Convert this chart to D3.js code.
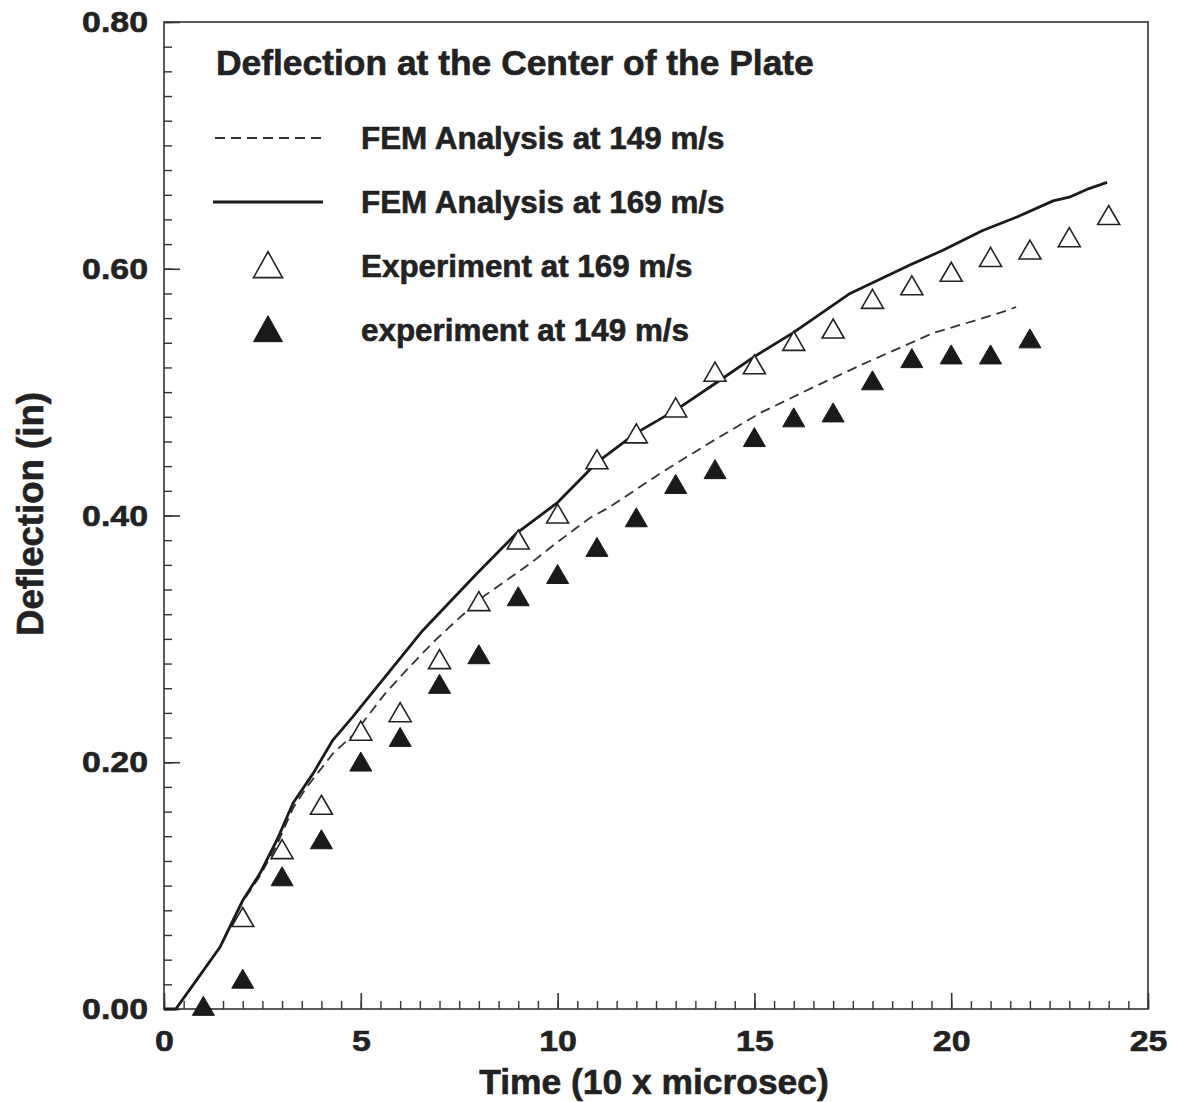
<!DOCTYPE html>
<html>
<head>
<meta charset="utf-8">
<script src="https://cdn.jsdelivr.net/npm/d3@7"></script>
<style>
  html, body { margin: 0; padding: 0; background: #fff; }
  svg { display: block; }
  text { font-family: "Liberation Sans", Arial, Helvetica, sans-serif; font-weight: bold; fill: #222; stroke: #222; stroke-width: 0.6px; }
</style>
</head>
<body>
<svg id="chart" width="1178" height="1102"></svg>
<script>
// ---- data ----
const chartTitle = "Deflection at the Center of the Plate";
const xTitle = "Time (10 x microsec)";
const yTitle = "Deflection (in)";
const xTickValues = [0, 5, 10, 15, 20, 25];
const yTickValues = [0, 0.2, 0.4, 0.6, 0.8];
const legendLabels = ["FEM Analysis at 149 m/s", "FEM Analysis at 169 m/s", "Experiment at 169 m/s", "experiment at 149 m/s"];

// FEM 149 m/s (dashed)
const fem149T = [0, 0.3, 0.84, 1.42, 2.0, 2.44, 2.87, 3.28, 3.63, 4.29, 4.8, 5.0, 5.6, 6.17, 6.83, 7.4, 8.1, 9.3, 10.06, 10.82, 11.33, 12.6, 13.87, 15.14, 16.5, 17.85, 19.55, 20.6, 21.4, 21.65];
const fem149V = [0, 0, 0.024, 0.05, 0.087, 0.108, 0.133, 0.163, 0.180, 0.207, 0.222, 0.230, 0.255, 0.275, 0.297, 0.314, 0.334, 0.361, 0.380, 0.398, 0.407, 0.434, 0.459, 0.483, 0.504, 0.524, 0.548, 0.558, 0.566, 0.569];

// FEM 169 m/s (solid)
const fem169T = [0, 0.3, 0.84, 1.42, 2.0, 2.44, 2.87, 3.28, 3.79, 4.29, 4.8, 5.56, 6.58, 7.95, 8.97, 9.98, 11.0, 12.0, 13.03, 14.05, 14.96, 15.98, 17.43, 18.95, 19.79, 20.8, 21.67, 22.59, 23.0, 23.5, 23.96];
const fem169V = [0, 0, 0.024, 0.05, 0.088, 0.110, 0.137, 0.167, 0.191, 0.218, 0.237, 0.267, 0.307, 0.353, 0.386, 0.410, 0.443, 0.467, 0.486, 0.508, 0.528, 0.548, 0.580, 0.603, 0.615, 0.631, 0.642, 0.655, 0.658, 0.665, 0.670];

// Experiment 169 m/s (open triangles)
const exp169T = [2, 3, 4, 5, 6, 7, 8, 9, 10, 11, 12, 13, 14, 15, 16, 17, 18, 19, 20, 21, 22, 23, 24];
const exp169V = [0.072, 0.127, 0.163, 0.223, 0.238, 0.281, 0.328, 0.378, 0.399, 0.443, 0.464, 0.485, 0.514, 0.520, 0.539, 0.549, 0.573, 0.584, 0.595, 0.607, 0.613, 0.623, 0.641];

// experiment 149 m/s (filled triangles)
const exp149T = [1, 2, 3, 4, 5, 6, 7, 8, 9, 10, 11, 12, 13, 14, 15, 16, 17, 18, 19, 20, 21, 22];
const exp149V = [0.0, 0.022, 0.105, 0.135, 0.198, 0.218, 0.261, 0.285, 0.332, 0.350, 0.372, 0.396, 0.423, 0.435, 0.461, 0.477, 0.481, 0.507, 0.525, 0.528, 0.528, 0.541];

// ---- layout ----
const svg = d3.select("#chart");
const X0 = 164, X1 = 1148, Y0 = 1009, Y1 = 22;
const x = d3.scaleLinear().domain([0, 25]).range([X0, X1]);
const y = d3.scaleLinear().domain([0, 0.8]).range([Y0, Y1]);
const ink = "#222";

// frame
svg.append("rect").attr("x", X0).attr("y", Y1).attr("width", X1 - X0).attr("height", Y0 - Y1)
  .attr("fill", "none").attr("stroke", "#333").attr("stroke-width", 1.6);

// left axis: minor ticks
const yMinor = d3.range(0, 0.8001, 0.02).map(v => +v.toFixed(2));
svg.append("g").attr("transform", `translate(${X0},0)`)
  .call(d3.axisLeft(y).tickValues(yMinor).tickSize(-8).tickFormat(""))
  .call(g => g.select(".domain").remove())
  .call(g => g.selectAll("line").attr("stroke", "#333").attr("stroke-width", 1.4));
// left axis: major ticks + labels
const sx = 1.13;
svg.append("g").attr("transform", `translate(${X0},0)`)
  .call(d3.axisLeft(y).tickValues(yTickValues).tickSize(-16).tickPadding(16).tickFormat(d3.format(".2f")))
  .call(g => g.select(".domain").remove())
  .call(g => g.selectAll("line").attr("stroke", "#333").attr("stroke-width", 1.6))
  .call(g => g.selectAll("text").attr("font-size", 30).attr("font-family", null).attr("fill", ink)
      .attr("transform", `scale(${sx},1)`).attr("x", -16 / sx));

// bottom axis: minor
const xMinor = d3.range(0, 25.001, 0.5);
svg.append("g").attr("transform", `translate(0,${Y0})`)
  .call(d3.axisBottom(x).tickValues(xMinor).tickSize(-8).tickFormat(""))
  .call(g => g.select(".domain").remove())
  .call(g => g.selectAll("line").attr("stroke", "#333").attr("stroke-width", 1.4));
svg.append("g").attr("transform", `translate(0,${Y0})`)
  .call(d3.axisBottom(x).tickValues(xTickValues).tickSize(-16).tickPadding(21).tickFormat(d3.format("d")))
  .call(g => g.select(".domain").remove())
  .call(g => g.selectAll("line").attr("stroke", "#333").attr("stroke-width", 1.6))
  .call(g => g.selectAll("text").attr("font-size", 30).attr("font-family", null).attr("fill", ink)
      .attr("transform", `scale(${sx},1)`));

// axis titles
svg.append("text").attr("x", 654).attr("y", 1094).attr("text-anchor", "middle")
  .attr("font-size", 35.4).text(xTitle);
svg.append("text").attr("transform", "translate(43,514) rotate(-90)").attr("text-anchor", "middle")
  .attr("font-size", 36.6).text(yTitle);

// chart title
svg.append("text").attr("x", 216).attr("y", 75).attr("font-size", 35.4).text(chartTitle);

// lines
const line = d3.line().x(d => x(d[0])).y(d => y(d[1]));
const fem149 = fem149T.map((t, i) => [t, fem149V[i]]);
const fem169 = fem169T.map((t, i) => [t, fem169V[i]]);
svg.append("path").datum(fem149).attr("d", line).attr("fill", "none")
  .attr("stroke", "#333").attr("stroke-width", 1.8).attr("stroke-dasharray", "10,6");
svg.append("path").datum(fem169).attr("d", line).attr("fill", "none")
  .attr("stroke", "#1a1a1a").attr("stroke-width", 2.8).attr("stroke-linejoin", "round");

// triangles
const tri = (w, h) => `M0,${-h * 2 / 3}L${w / 2},${h / 3}L${-w / 2},${h / 3}Z`;
const markW = 22, markH = 19;
svg.append("g").selectAll("path").data(exp169T.map((t, i) => [t, exp169V[i]])).join("path")
  .attr("transform", d => `translate(${x(d[0])},${y(d[1])})`)
  .attr("d", tri(markW, markH)).attr("fill", "#fff").attr("stroke", "#222").attr("stroke-width", 1.6);
svg.append("g").selectAll("path").data(exp149T.map((t, i) => [t, exp149V[i]])).join("path")
  .attr("transform", d => `translate(${x(d[0])},${y(d[1])})`)
  .attr("d", tri(markW, markH)).attr("fill", "#1a1a1a").attr("stroke", "#1a1a1a").attr("stroke-width", 1);

// legend
const legY = [138, 202, 266, 330];
const lg = svg.append("g");
lg.append("line").attr("x1", 215).attr("x2", 323).attr("y1", legY[0]).attr("y2", legY[0])
  .attr("stroke", "#333").attr("stroke-width", 1.8).attr("stroke-dasharray", "10,6");
lg.append("line").attr("x1", 213).attr("x2", 323).attr("y1", legY[1]).attr("y2", legY[1])
  .attr("stroke", "#1a1a1a").attr("stroke-width", 2.8);
lg.append("path").attr("transform", `translate(268,${legY[2] + 3})`).attr("d", tri(29, 26))
  .attr("fill", "#fff").attr("stroke", "#222").attr("stroke-width", 1.6);
lg.append("path").attr("transform", `translate(268,${legY[3] + 3})`).attr("d", tri(29, 26))
  .attr("fill", "#1a1a1a").attr("stroke", "#1a1a1a");
lg.selectAll("text.leg").data(legendLabels).join("text").attr("class", "leg")
  .attr("x", 361).attr("y", (d, i) => legY[i] + 11).attr("font-size", 31.4).text(d => d);
</script>
</body>
</html>
